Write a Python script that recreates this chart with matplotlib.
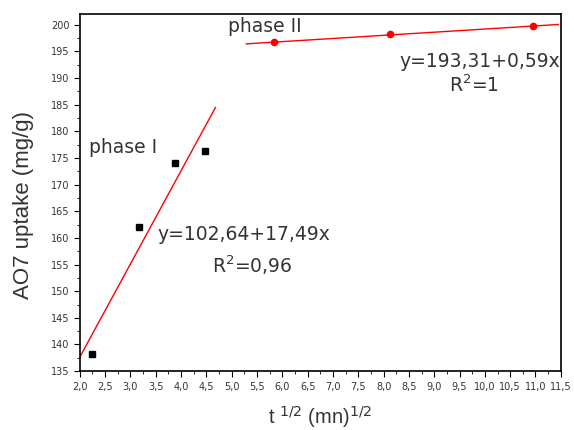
import numpy as np
import matplotlib.pyplot as plt
import matplotlib as mpl
from matplotlib.ticker import MultipleLocator, FuncFormatter

mpl.rcParams["font.family"] = ["DejaVu Sans"]

# data
x1 = [2.236, 3.162, 3.873, 4.472]
y1 = [138.2, 162.0, 174.1, 176.3]
x2 = [5.83, 8.12, 10.95]
y2 = [196.7, 198.2, 199.8]

# fits
a1, b1 = 102.64, 17.49
a2, b2 = 193.31, 0.59
fit1_x = np.array([2.0, 4.68])
fit2_x = np.array([5.29, 11.45])

fig = plt.figure(figsize=(5.74, 4.30), dpi=100)
ax = fig.add_axes([0.139, 0.137, 0.838, 0.830])

ax.plot(fit1_x, a1 + b1 * fit1_x, color="red", lw=1)
ax.plot(fit2_x, a2 + b2 * fit2_x, color="red", lw=1)
ax.plot(x1, y1, "s", color="black", ms=5)
ax.plot(x2, y2, "o", color="red", ms=4.5)

ax.set_xlim(2.0, 11.5)
ax.set_ylim(135, 202)

ax.xaxis.set_major_locator(MultipleLocator(0.5))
ax.xaxis.set_minor_locator(MultipleLocator(0.25))
ax.yaxis.set_major_locator(MultipleLocator(5))
ax.yaxis.set_minor_locator(MultipleLocator(2.5))

comma = FuncFormatter(lambda v, p: f"{v:.1f}".replace(".", ","))
ax.xaxis.set_major_formatter(comma)
ax.yaxis.set_major_formatter(FuncFormatter(lambda v, p: f"{v:.0f}"))

ax.tick_params(which="both", direction="out", top=False, right=False,
               labelsize=7, labelcolor="#333333")
ax.tick_params(which="major", length=4)
ax.tick_params(which="minor", length=2.5)
for s in ax.spines.values():
    s.set_linewidth(1.2)

tc = "#333333"
ax.set_ylabel("AO7 uptake (mg/g)", fontsize=16, color=tc, family="Liberation Sans")
ax.yaxis.set_label_coords(-0.095, 0.465)
ax.set_xlabel("t $^{1/2}$ (mn)$^{1/2}$", fontsize=14.5, color=tc, family="Liberation Sans")
ax.xaxis.set_label_coords(0.5, -0.092)

fs = 13.5
ax.text(2.18, 176.0, "phase I", fontsize=fs, color=tc)
ax.text(4.92, 198.7, "phase II", fontsize=fs, color=tc)
ax.text(3.54, 159.6, "y=102,64+17,49x", fontsize=fs, color=tc)
ax.text(4.62, 153.4, "R$^{2}$=0,96", fontsize=fs, color=tc)
ax.text(8.31, 192.1, "y=193,31+0,59x", fontsize=fs, color=tc)
ax.text(9.30, 187.3, "R$^{2}$=1", fontsize=fs, color=tc)

fig.savefig("out.png", dpi=100)
